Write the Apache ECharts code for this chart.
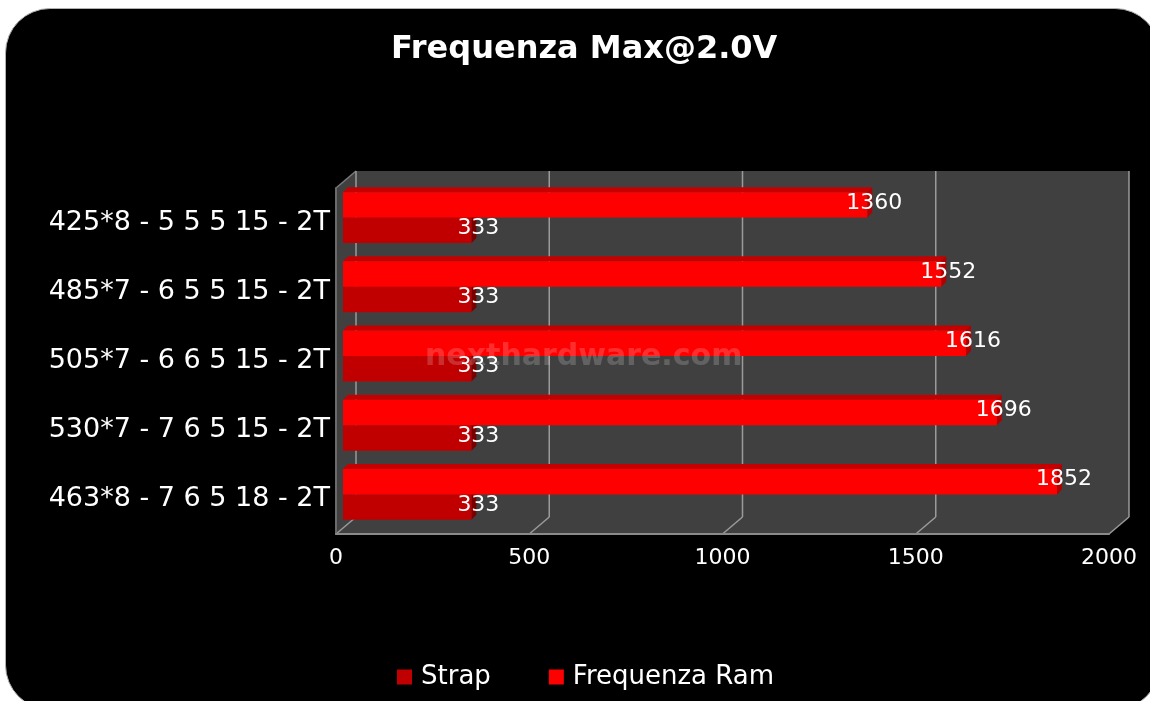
<!DOCTYPE html>
<html>
<head>
<meta charset="utf-8">
<script src="https://cdn.jsdelivr.net/npm/echarts@6/dist/echarts.min.js"></script>
<style>
  html, body { margin: 0; padding: 0; background: #fff; overflow: hidden; }
  #bg { position: absolute; left: 5px; top: 8px; width: 1153px; height: 700px;
        background: #000; border: 1px solid #b0b0b0; border-radius: 45px; }
  #chart { position: absolute; left: 0; top: 0; width: 1150px; height: 701px; }
</style>
</head>
<body>
<div id="bg"></div>
<div id="chart"></div>
<script>
var categories = ['425*8 - 5 5 5 15 - 2T', '485*7 - 6 5 5 15 - 2T', '505*7 - 6 6 5 15 - 2T',
                  '530*7 - 7 6 5 15 - 2T', '463*8 - 7 6 5 18 - 2T'];
var strapValues = [333, 333, 333, 333, 333];
var ramValues = [1360, 1552, 1616, 1696, 1852];
var xTicks = [0, 500, 1000, 1500, 2000];

var DX = -20, DY = 17;   // depth of the walls
var BD = 5;              // depth of the bars
var FONT = '"DejaVu Sans", Verdana, sans-serif';

// walls, floor and grid lines of the 3d box
function renderWalls(params, api) {
  var v = api.value(0);
  var top = api.coord([v, 1]), bot = api.coord([v, 0]);
  var line = { stroke: '#9a9a9a', lineWidth: 1.5 };
  var children = [];
  if (params.dataIndex === 0) {
    var tl = api.coord([0, 1]), bl = api.coord([0, 0]);
    var br = api.coord([2000, 0]), tr = api.coord([2000, 1]);
    children.push({
      type: 'polygon',
      shape: { points: [tl, [tl[0] + DX, tl[1] + DY], [bl[0] + DX, bl[1] + DY],
                        [br[0] + DX, br[1] + DY], br, tr] },
      style: { fill: '#404040' }
    });
    children.push({
      type: 'line',
      shape: { x1: tl[0], y1: tl[1], x2: tl[0] + DX, y2: tl[1] + DY },
      style: { stroke: '#7a7a7a', lineWidth: 1.5 }
    });
  }
  children.push({ type: 'line', shape: { x1: top[0], y1: top[1], x2: bot[0], y2: bot[1] }, style: line });
  children.push({ type: 'line', shape: { x1: bot[0], y1: bot[1], x2: bot[0] + DX, y2: bot[1] + DY }, style: line });
  return { type: 'group', children: children };
}

function barRenderer(front, topFace, side, upper) {
  return function (params, api) {
    var v = api.value(0), c = api.value(1);
    var p0 = api.coord([0, c]), p1 = api.coord([v, c]);
    var h = api.size([0, 1])[1] * 0.368;
    var yTop = upper ? p0[1] - h : p0[1];
    var yBot = yTop + h;
    var x0 = p0[0], x1 = p1[0];
    return {
      type: 'group',
      children: [
        { type: 'polygon', shape: { points: [[x0, yTop], [x1, yTop], [x1 + BD, yTop - BD], [x0 + BD, yTop - BD]] },
          style: { fill: topFace } },
        { type: 'polygon', shape: { points: [[x1, yTop], [x1 + BD, yTop - BD], [x1 + BD, yBot - BD], [x1, yBot]] },
          style: { fill: side } },
        { type: 'rect', shape: { x: x0, y: yTop, width: x1 - x0, height: h }, style: { fill: front } },
        { type: 'text', x: x1 + 7, y: (yTop + yBot) / 2 - 2, z2: 10,
          style: { text: String(v), fill: '#fff', font: '22px ' + FONT, align: 'center', verticalAlign: 'middle' } }
      ]
    };
  };
}

var chart = echarts.init(document.getElementById('chart'));
var option = {
  backgroundColor: 'transparent',
  animation: false,
  title: {
    text: 'Frequenza Max@2.0V',
    left: 386, top: 29,
    textStyle: { color: '#fff', fontFamily: FONT, fontWeight: 'bold', fontSize: 32 }
  },
  legend: {
    data: ['Strap', 'Frequenza Ram'],
    left: 392, top: 659,
    icon: 'rect', itemWidth: 15, itemHeight: 15, itemGap: 58,
    textStyle: { color: '#fff', fontFamily: FONT, fontSize: 26, padding: [0, 0, 0, 4] }
  },
  graphic: [{
    type: 'text', left: 425, top: 342, z: 10,
    style: { text: 'nexthardware.com', fill: 'rgba(255,255,255,0.18)', font: 'bold 30px ' + FONT }
  }],
  grid: [
    { left: 356, top: 171, width: 773, height: 346 },   // back wall
    { left: 343, top: 183, width: 771, height: 346 },   // bars
    { left: 336, top: 188, width: 773, height: 346 }    // front edge
  ],
  xAxis: [
    { gridIndex: 0, type: 'value', min: 0, max: 2000, show: false },
    { gridIndex: 1, type: 'value', min: 0, max: 2000, show: false },
    { gridIndex: 2, type: 'value', min: 0, max: 2000, interval: 500, z: 5,
      axisLine: { show: true, lineStyle: { color: '#8a8a8a', width: 2 } },
      axisTick: { show: false }, splitLine: { show: false },
      axisLabel: { color: '#fff', fontFamily: FONT, fontSize: 22, margin: 13,
                   formatter: function (v) { return String(v); } } }
  ],
  yAxis: [
    { gridIndex: 0, type: 'value', min: 0, max: 1, show: false },
    { gridIndex: 1, type: 'category', data: categories, inverse: true, show: false },
    { gridIndex: 2, type: 'category', data: categories, inverse: true, z: 5,
      axisLine: { show: true, lineStyle: { color: '#6a6a6a', width: 2 } },
      axisTick: { show: false },
      axisLabel: { color: '#fff', fontFamily: FONT, fontSize: 27, margin: 6 } }
  ],
  series: [
    { type: 'custom', name: 'walls', xAxisIndex: 0, yAxisIndex: 0, z: 1, silent: true,
      renderItem: renderWalls, data: xTicks.map(function (t) { return [t]; }) },
    { type: 'custom', name: 'Strap', xAxisIndex: 1, yAxisIndex: 1, z: 3,
      itemStyle: { color: '#c00000' },
      renderItem: barRenderer('#c00000', '#a00000', '#7a0000', false),
      encode: { x: 0, y: 1 },
      data: strapValues.map(function (v, i) { return [v, i]; }) },
    { type: 'custom', name: 'Frequenza Ram', xAxisIndex: 1, yAxisIndex: 1, z: 3,
      itemStyle: { color: '#ff0000' },
      renderItem: barRenderer('#ff0000', '#c40000', '#b00000', true),
      encode: { x: 0, y: 1 },
      data: ramValues.map(function (v, i) { return [v, i]; }) }
  ]
};
chart.setOption(option);
</script>
</body>
</html>
